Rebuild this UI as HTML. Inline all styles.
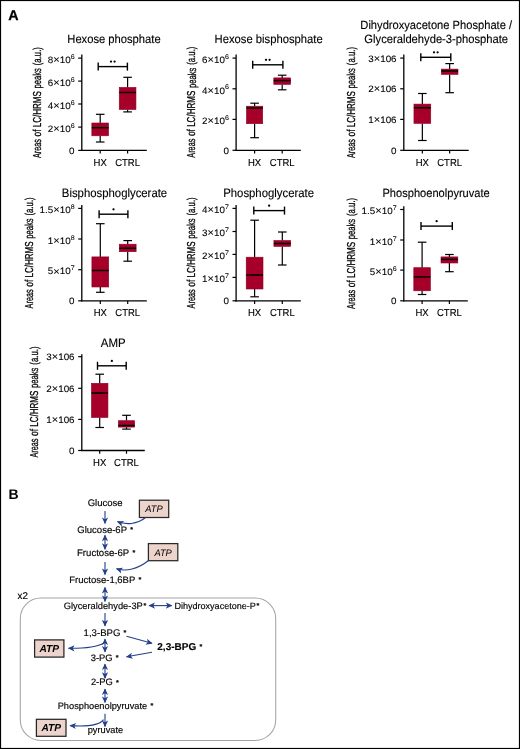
<!DOCTYPE html>
<html><head><meta charset="utf-8"><style>
html,body{margin:0;padding:0;background:#fff;}
body{width:520px;height:749px;overflow:hidden;position:relative;}
svg{position:absolute;left:0;top:0;font-family:"Liberation Sans", sans-serif;will-change:transform;text-rendering:geometricPrecision;}
</style></head><body>
<svg width="520" height="749" viewBox="0 0 520 749">
<rect x="0" y="0" width="520" height="749" fill="#fff"/>
<text x="8.3" y="19.6" font-size="14.3" font-weight="bold" stroke="#000" stroke-width="0.25">A</text>
<text x="8.5" y="499.2" font-size="14" font-weight="bold">B</text>
<text transform="translate(113.95,43.1) scale(1,1.07)" font-size="11.2" text-anchor="middle" stroke="#000" stroke-width="0.12">Hexose phosphate</text>
<text transform="translate(40.8,158.10026978417264) rotate(-90)" x="0" y="0" font-size="11.5" stroke="#000" stroke-width="0.28" textLength="19.05" lengthAdjust="spacingAndGlyphs">Areas</text>
<text transform="translate(40.8,136.45881294964028) rotate(-90)" x="0" y="0" font-size="11.5" stroke="#000" stroke-width="0.28" textLength="6.98" lengthAdjust="spacingAndGlyphs">of</text>
<text transform="translate(40.8,127.28363309352517) rotate(-90)" x="0" y="0" font-size="11.5" stroke="#000" stroke-width="0.28" textLength="36.10" lengthAdjust="spacingAndGlyphs">LC/HRMS</text>
<text transform="translate(40.8,88.48857913669063) rotate(-90)" x="0" y="0" font-size="11.5" stroke="#000" stroke-width="0.28" textLength="20.25" lengthAdjust="spacingAndGlyphs">peaks</text>
<text transform="translate(40.8,65.25143884892086) rotate(-90)" x="0" y="0" font-size="11.5" stroke="#000" stroke-width="0.28" textLength="18.15" lengthAdjust="spacingAndGlyphs">(a.u.)</text>
<line x1="81.8" y1="54.6" x2="81.8" y2="151.0" stroke="#000" stroke-width="1.3" />
<line x1="81.2" y1="150.4" x2="146.8" y2="150.4" stroke="#000" stroke-width="1.3" />
<line x1="78.2" y1="150.4" x2="81.8" y2="150.4" stroke="#000" stroke-width="1.2" />
<text transform="translate(74.6,153.8) scale(1.12,1.06)" font-size="8.8" text-anchor="end" stroke="#000" stroke-width="0.08">0</text>
<line x1="78.2" y1="127.1" x2="81.8" y2="127.1" stroke="#000" stroke-width="1.2" />
<text transform="translate(74.6,131.79999999999998) scale(1.12,1.06)" font-size="8.8" text-anchor="end" stroke="#000" stroke-width="0.08">2<tspan font-size="9.9" dy="0.1">×</tspan><tspan dy="-0.1">10</tspan><tspan font-size="6.3" dy="-3.9">6</tspan></text>
<line x1="78.2" y1="104" x2="81.8" y2="104" stroke="#000" stroke-width="1.2" />
<text transform="translate(74.6,108.7) scale(1.12,1.06)" font-size="8.8" text-anchor="end" stroke="#000" stroke-width="0.08">4<tspan font-size="9.9" dy="0.1">×</tspan><tspan dy="-0.1">10</tspan><tspan font-size="6.3" dy="-3.9">6</tspan></text>
<line x1="78.2" y1="81.1" x2="81.8" y2="81.1" stroke="#000" stroke-width="1.2" />
<text transform="translate(74.6,85.8) scale(1.12,1.06)" font-size="8.8" text-anchor="end" stroke="#000" stroke-width="0.08">6<tspan font-size="9.9" dy="0.1">×</tspan><tspan dy="-0.1">10</tspan><tspan font-size="6.3" dy="-3.9">6</tspan></text>
<line x1="78.2" y1="58.1" x2="81.8" y2="58.1" stroke="#000" stroke-width="1.2" />
<text transform="translate(74.6,62.800000000000004) scale(1.12,1.06)" font-size="8.8" text-anchor="end" stroke="#000" stroke-width="0.08">8<tspan font-size="9.9" dy="0.1">×</tspan><tspan dy="-0.1">10</tspan><tspan font-size="6.3" dy="-3.9">6</tspan></text>
<line x1="100.2" y1="150.4" x2="100.2" y2="153.6" stroke="#000" stroke-width="1.2" />
<text transform="translate(100.2,165.9) scale(1,1.06)" font-size="9.5" text-anchor="middle" stroke="#000" stroke-width="0.12">HX</text>
<line x1="127.6" y1="150.4" x2="127.6" y2="153.6" stroke="#000" stroke-width="1.2" />
<text transform="translate(127.6,165.9) scale(1,1.06)" font-size="9.5" text-anchor="middle" stroke="#000" stroke-width="0.12">CTRL</text>
<line x1="100.2" y1="114.3" x2="100.2" y2="123" stroke="#000" stroke-width="1.2" />
<line x1="100.2" y1="135.8" x2="100.2" y2="142" stroke="#000" stroke-width="1.2" />
<line x1="95.9" y1="114.3" x2="104.5" y2="114.3" stroke="#000" stroke-width="1.2" />
<line x1="95.9" y1="142" x2="104.5" y2="142" stroke="#000" stroke-width="1.2" />
<rect x="91.85000000000001" y="123" width="16.7" height="12.800000000000011" fill="#a6002a" stroke="#8e0022" stroke-width="0.6"/>
<line x1="91.85000000000001" y1="127.7" x2="108.55" y2="127.7" stroke="#000" stroke-width="1.5" />
<line x1="127.6" y1="77.3" x2="127.6" y2="87.4" stroke="#000" stroke-width="1.2" />
<line x1="127.6" y1="109.5" x2="127.6" y2="111.9" stroke="#000" stroke-width="1.2" />
<line x1="123.3" y1="77.3" x2="131.9" y2="77.3" stroke="#000" stroke-width="1.2" />
<line x1="123.3" y1="111.9" x2="131.9" y2="111.9" stroke="#000" stroke-width="1.2" />
<rect x="119.25" y="87.4" width="16.7" height="22.099999999999994" fill="#a6002a" stroke="#8e0022" stroke-width="0.6"/>
<line x1="119.25" y1="92.5" x2="135.95" y2="92.5" stroke="#000" stroke-width="1.5" />
<line x1="98.2" y1="66.6" x2="127.4" y2="66.6" stroke="#000" stroke-width="1.4" />
<line x1="98.2" y1="62.599999999999994" x2="98.2" y2="70.6" stroke="#000" stroke-width="1.4" />
<line x1="127.4" y1="62.599999999999994" x2="127.4" y2="70.6" stroke="#000" stroke-width="1.4" />
<circle cx="111.00000000000001" cy="61.599999999999994" r="1.15" fill="#000"/>
<circle cx="114.60000000000001" cy="61.599999999999994" r="1.15" fill="#000"/>
<text transform="translate(268.65,42.9) scale(1,1.07)" font-size="11.25" text-anchor="middle" stroke="#000" stroke-width="0.12">Hexose bisphosphate</text>
<text transform="translate(194.8,157.7001798561151) rotate(-90)" x="0" y="0" font-size="11.5" stroke="#000" stroke-width="0.28" textLength="19.07" lengthAdjust="spacingAndGlyphs">Areas</text>
<text transform="translate(194.8,136.03920863309352) rotate(-90)" x="0" y="0" font-size="11.5" stroke="#000" stroke-width="0.28" textLength="6.99" lengthAdjust="spacingAndGlyphs">of</text>
<text transform="translate(194.8,126.85575539568346) rotate(-90)" x="0" y="0" font-size="11.5" stroke="#000" stroke-width="0.28" textLength="36.13" lengthAdjust="spacingAndGlyphs">LC/HRMS</text>
<text transform="translate(194.8,88.02571942446043) rotate(-90)" x="0" y="1.0" font-size="11.5" stroke="#000" stroke-width="0.28" textLength="20.26" lengthAdjust="spacingAndGlyphs">peaks</text>
<text transform="translate(194.8,64.76762589928057) rotate(-90)" x="0" y="0" font-size="11.5" stroke="#000" stroke-width="0.28" textLength="18.17" lengthAdjust="spacingAndGlyphs">(a.u.)</text>
<line x1="236.1" y1="54.6" x2="236.1" y2="150.9" stroke="#000" stroke-width="1.3" />
<line x1="235.5" y1="150.3" x2="300.8" y2="150.3" stroke="#000" stroke-width="1.3" />
<line x1="232.5" y1="150.3" x2="236.1" y2="150.3" stroke="#000" stroke-width="1.2" />
<text transform="translate(228.9,153.70000000000002) scale(1.12,1.06)" font-size="8.8" text-anchor="end" stroke="#000" stroke-width="0.08">0</text>
<line x1="232.5" y1="119.4" x2="236.1" y2="119.4" stroke="#000" stroke-width="1.2" />
<text transform="translate(228.9,124.10000000000001) scale(1.12,1.06)" font-size="8.8" text-anchor="end" stroke="#000" stroke-width="0.08">2<tspan font-size="9.9" dy="0.1">×</tspan><tspan dy="-0.1">10</tspan><tspan font-size="6.3" dy="-3.9">6</tspan></text>
<line x1="232.5" y1="88.8" x2="236.1" y2="88.8" stroke="#000" stroke-width="1.2" />
<text transform="translate(228.9,93.5) scale(1.12,1.06)" font-size="8.8" text-anchor="end" stroke="#000" stroke-width="0.08">4<tspan font-size="9.9" dy="0.1">×</tspan><tspan dy="-0.1">10</tspan><tspan font-size="6.3" dy="-3.9">6</tspan></text>
<line x1="232.5" y1="58.1" x2="236.1" y2="58.1" stroke="#000" stroke-width="1.2" />
<text transform="translate(228.9,62.800000000000004) scale(1.12,1.06)" font-size="8.8" text-anchor="end" stroke="#000" stroke-width="0.08">6<tspan font-size="9.9" dy="0.1">×</tspan><tspan dy="-0.1">10</tspan><tspan font-size="6.3" dy="-3.9">6</tspan></text>
<line x1="254.6" y1="150.3" x2="254.6" y2="153.5" stroke="#000" stroke-width="1.2" />
<text transform="translate(254.6,165.8) scale(1,1.06)" font-size="9.5" text-anchor="middle" stroke="#000" stroke-width="0.12">HX</text>
<line x1="282.2" y1="150.3" x2="282.2" y2="153.5" stroke="#000" stroke-width="1.2" />
<text transform="translate(282.2,165.8) scale(1,1.06)" font-size="9.5" text-anchor="middle" stroke="#000" stroke-width="0.12">CTRL</text>
<line x1="254.6" y1="103.2" x2="254.6" y2="106.2" stroke="#000" stroke-width="1.2" />
<line x1="254.6" y1="123.7" x2="254.6" y2="137.7" stroke="#000" stroke-width="1.2" />
<line x1="250.29999999999998" y1="103.2" x2="258.9" y2="103.2" stroke="#000" stroke-width="1.2" />
<line x1="250.29999999999998" y1="137.7" x2="258.9" y2="137.7" stroke="#000" stroke-width="1.2" />
<rect x="246.5" y="106.2" width="16.2" height="17.5" fill="#a6002a" stroke="#8e0022" stroke-width="0.6"/>
<line x1="246.5" y1="108" x2="262.7" y2="108" stroke="#000" stroke-width="1.5" />
<line x1="282.2" y1="75.2" x2="282.2" y2="77.9" stroke="#000" stroke-width="1.2" />
<line x1="282.2" y1="84.4" x2="282.2" y2="89.8" stroke="#000" stroke-width="1.2" />
<line x1="277.9" y1="75.2" x2="286.5" y2="75.2" stroke="#000" stroke-width="1.2" />
<line x1="277.9" y1="89.8" x2="286.5" y2="89.8" stroke="#000" stroke-width="1.2" />
<rect x="273.8" y="77.9" width="16.8" height="6.5" fill="#a6002a" stroke="#8e0022" stroke-width="0.6"/>
<line x1="273.8" y1="80.6" x2="290.59999999999997" y2="80.6" stroke="#000" stroke-width="1.5" />
<line x1="252.7" y1="64.8" x2="282.9" y2="64.8" stroke="#000" stroke-width="1.4" />
<line x1="252.7" y1="60.8" x2="252.7" y2="68.8" stroke="#000" stroke-width="1.4" />
<line x1="282.9" y1="60.8" x2="282.9" y2="68.8" stroke="#000" stroke-width="1.4" />
<circle cx="265.99999999999994" cy="59.8" r="1.15" fill="#000"/>
<circle cx="269.59999999999997" cy="59.8" r="1.15" fill="#000"/>
<text transform="translate(436.2,28.8) scale(1,1.07)" font-size="11.15" text-anchor="middle" stroke="#000" stroke-width="0.12">Dihydroxyacetone Phosphate /</text>
<text transform="translate(436.2,42.8) scale(1,1.07)" font-size="11.2" text-anchor="middle" stroke="#000" stroke-width="0.12">Glyceraldehyde-3-phosphate</text>
<text transform="translate(354.7,158.1001798561151) rotate(-90)" x="0" y="0" font-size="11.5" stroke="#000" stroke-width="0.28" textLength="19.07" lengthAdjust="spacingAndGlyphs">Areas</text>
<text transform="translate(354.7,136.43920863309353) rotate(-90)" x="0" y="0" font-size="11.5" stroke="#000" stroke-width="0.28" textLength="6.99" lengthAdjust="spacingAndGlyphs">of</text>
<text transform="translate(354.7,127.25575539568345) rotate(-90)" x="0" y="0" font-size="11.5" stroke="#000" stroke-width="0.28" textLength="36.13" lengthAdjust="spacingAndGlyphs">LC/HRMS</text>
<text transform="translate(354.7,88.42571942446042) rotate(-90)" x="0" y="0" font-size="11.5" stroke="#000" stroke-width="0.28" textLength="20.26" lengthAdjust="spacingAndGlyphs">peaks</text>
<text transform="translate(354.7,65.16762589928057) rotate(-90)" x="0" y="0" font-size="11.5" stroke="#000" stroke-width="0.28" textLength="18.17" lengthAdjust="spacingAndGlyphs">(a.u.)</text>
<line x1="403.8" y1="54.6" x2="403.8" y2="150.9" stroke="#000" stroke-width="1.3" />
<line x1="403.2" y1="150.3" x2="468.7" y2="150.3" stroke="#000" stroke-width="1.3" />
<line x1="400.2" y1="150.3" x2="403.8" y2="150.3" stroke="#000" stroke-width="1.2" />
<text transform="translate(396.6,153.70000000000002) scale(1.12,1.06)" font-size="8.8" text-anchor="end" stroke="#000" stroke-width="0.08">0</text>
<line x1="400.2" y1="119.4" x2="403.8" y2="119.4" stroke="#000" stroke-width="1.2" />
<text transform="translate(396.6,122.80000000000001) scale(1.12,1.06)" font-size="8.8" text-anchor="end" stroke="#000" stroke-width="0.08">1<tspan font-size="9.9" dy="0.1">×</tspan><tspan dy="-0.1">106</tspan></text>
<line x1="400.2" y1="88.8" x2="403.8" y2="88.8" stroke="#000" stroke-width="1.2" />
<text transform="translate(396.6,92.2) scale(1.12,1.06)" font-size="8.8" text-anchor="end" stroke="#000" stroke-width="0.08">2<tspan font-size="9.9" dy="0.1">×</tspan><tspan dy="-0.1">106</tspan></text>
<line x1="400.2" y1="58.1" x2="403.8" y2="58.1" stroke="#000" stroke-width="1.2" />
<text transform="translate(396.6,61.5) scale(1.12,1.06)" font-size="8.8" text-anchor="end" stroke="#000" stroke-width="0.08">3<tspan font-size="9.9" dy="0.1">×</tspan><tspan dy="-0.1">106</tspan></text>
<line x1="422.35" y1="150.3" x2="422.35" y2="153.5" stroke="#000" stroke-width="1.2" />
<text transform="translate(422.35,165.8) scale(1,1.06)" font-size="9.5" text-anchor="middle" stroke="#000" stroke-width="0.12">HX</text>
<line x1="449.65" y1="150.3" x2="449.65" y2="153.5" stroke="#000" stroke-width="1.2" />
<text transform="translate(449.65,165.8) scale(1,1.06)" font-size="9.5" text-anchor="middle" stroke="#000" stroke-width="0.12">CTRL</text>
<line x1="422.35" y1="93.5" x2="422.35" y2="104.1" stroke="#000" stroke-width="1.2" />
<line x1="422.35" y1="123.4" x2="422.35" y2="140.5" stroke="#000" stroke-width="1.2" />
<line x1="418.05" y1="93.5" x2="426.65000000000003" y2="93.5" stroke="#000" stroke-width="1.2" />
<line x1="418.05" y1="140.5" x2="426.65000000000003" y2="140.5" stroke="#000" stroke-width="1.2" />
<rect x="413.95000000000005" y="104.1" width="16.8" height="19.30000000000001" fill="#a6002a" stroke="#8e0022" stroke-width="0.6"/>
<line x1="413.95000000000005" y1="107.8" x2="430.75" y2="107.8" stroke="#000" stroke-width="1.5" />
<line x1="449.65" y1="63.6" x2="449.65" y2="69.1" stroke="#000" stroke-width="1.2" />
<line x1="449.65" y1="74.4" x2="449.65" y2="92.7" stroke="#000" stroke-width="1.2" />
<line x1="445.34999999999997" y1="63.6" x2="453.95" y2="63.6" stroke="#000" stroke-width="1.2" />
<line x1="445.34999999999997" y1="92.7" x2="453.95" y2="92.7" stroke="#000" stroke-width="1.2" />
<rect x="441.29999999999995" y="69.1" width="16.7" height="5.300000000000011" fill="#a6002a" stroke="#8e0022" stroke-width="0.6"/>
<line x1="441.29999999999995" y1="71" x2="458.0" y2="71" stroke="#000" stroke-width="1.5" />
<line x1="420.8" y1="57.3" x2="450.8" y2="57.3" stroke="#000" stroke-width="1.4" />
<line x1="420.8" y1="53.3" x2="420.8" y2="61.3" stroke="#000" stroke-width="1.4" />
<line x1="450.8" y1="53.3" x2="450.8" y2="61.3" stroke="#000" stroke-width="1.4" />
<circle cx="434.0" cy="52.3" r="1.15" fill="#000"/>
<circle cx="437.6" cy="52.3" r="1.15" fill="#000"/>
<text transform="translate(114.5,196.5) scale(1,1.07)" font-size="11.35" text-anchor="middle" stroke="#000" stroke-width="0.12">Bisphosphoglycerate</text>
<text transform="translate(32.7,308.40017985611513) rotate(-90)" x="0" y="0" font-size="11.5" stroke="#000" stroke-width="0.28" textLength="19.07" lengthAdjust="spacingAndGlyphs">Areas</text>
<text transform="translate(32.7,286.73920863309354) rotate(-90)" x="0" y="0" font-size="11.5" stroke="#000" stroke-width="0.28" textLength="6.99" lengthAdjust="spacingAndGlyphs">of</text>
<text transform="translate(32.7,277.55575539568343) rotate(-90)" x="0" y="0" font-size="11.5" stroke="#000" stroke-width="0.28" textLength="36.13" lengthAdjust="spacingAndGlyphs">LC/HRMS</text>
<text transform="translate(32.7,238.7257194244604) rotate(-90)" x="0" y="0" font-size="11.5" stroke="#000" stroke-width="0.28" textLength="20.26" lengthAdjust="spacingAndGlyphs">peaks</text>
<text transform="translate(32.7,215.46762589928056) rotate(-90)" x="0" y="0" font-size="11.5" stroke="#000" stroke-width="0.28" textLength="18.17" lengthAdjust="spacingAndGlyphs">(a.u.)</text>
<line x1="81.8" y1="204.9" x2="81.8" y2="301.40000000000003" stroke="#000" stroke-width="1.3" />
<line x1="81.2" y1="300.8" x2="146.8" y2="300.8" stroke="#000" stroke-width="1.3" />
<line x1="78.2" y1="300.8" x2="81.8" y2="300.8" stroke="#000" stroke-width="1.2" />
<text transform="translate(74.6,304.2) scale(1.12,1.06)" font-size="8.8" text-anchor="end" stroke="#000" stroke-width="0.08">0</text>
<line x1="78.2" y1="269.7" x2="81.8" y2="269.7" stroke="#000" stroke-width="1.2" />
<text transform="translate(74.6,274.4) scale(1.12,1.06)" font-size="8.8" text-anchor="end" stroke="#000" stroke-width="0.08">5<tspan font-size="9.9" dy="0.1">×</tspan><tspan dy="-0.1">10</tspan><tspan font-size="6.3" dy="-3.9">7</tspan></text>
<line x1="78.2" y1="239" x2="81.8" y2="239" stroke="#000" stroke-width="1.2" />
<text transform="translate(74.6,243.7) scale(1.12,1.06)" font-size="8.8" text-anchor="end" stroke="#000" stroke-width="0.08">1<tspan font-size="9.9" dy="0.1">×</tspan><tspan dy="-0.1">10</tspan><tspan font-size="6.3" dy="-3.9">8</tspan></text>
<line x1="78.2" y1="208.4" x2="81.8" y2="208.4" stroke="#000" stroke-width="1.2" />
<text transform="translate(74.6,213.1) scale(1.12,1.06)" font-size="8.8" text-anchor="end" stroke="#000" stroke-width="0.08">1.5<tspan font-size="9.9" dy="0.1">×</tspan><tspan dy="-0.1">10</tspan><tspan font-size="6.3" dy="-3.9">8</tspan></text>
<line x1="100.3" y1="300.8" x2="100.3" y2="304.0" stroke="#000" stroke-width="1.2" />
<text transform="translate(100.3,316.3) scale(1,1.06)" font-size="9.5" text-anchor="middle" stroke="#000" stroke-width="0.12">HX</text>
<line x1="127.7" y1="300.8" x2="127.7" y2="304.0" stroke="#000" stroke-width="1.2" />
<text transform="translate(127.7,316.3) scale(1,1.06)" font-size="9.5" text-anchor="middle" stroke="#000" stroke-width="0.12">CTRL</text>
<line x1="100.3" y1="223.7" x2="100.3" y2="256.9" stroke="#000" stroke-width="1.2" />
<line x1="100.3" y1="287" x2="100.3" y2="292.3" stroke="#000" stroke-width="1.2" />
<line x1="96.0" y1="223.7" x2="104.6" y2="223.7" stroke="#000" stroke-width="1.2" />
<line x1="96.0" y1="292.3" x2="104.6" y2="292.3" stroke="#000" stroke-width="1.2" />
<rect x="91.89999999999999" y="256.9" width="16.8" height="30.100000000000023" fill="#a6002a" stroke="#8e0022" stroke-width="0.6"/>
<line x1="91.89999999999999" y1="270.5" x2="108.7" y2="270.5" stroke="#000" stroke-width="1.5" />
<line x1="127.7" y1="240.6" x2="127.7" y2="244.2" stroke="#000" stroke-width="1.2" />
<line x1="127.7" y1="251.7" x2="127.7" y2="261.2" stroke="#000" stroke-width="1.2" />
<line x1="123.4" y1="240.6" x2="132.0" y2="240.6" stroke="#000" stroke-width="1.2" />
<line x1="123.4" y1="261.2" x2="132.0" y2="261.2" stroke="#000" stroke-width="1.2" />
<rect x="119.3" y="244.2" width="16.8" height="7.5" fill="#a6002a" stroke="#8e0022" stroke-width="0.6"/>
<line x1="119.3" y1="248.3" x2="136.1" y2="248.3" stroke="#000" stroke-width="1.5" />
<line x1="99.1" y1="214.2" x2="127.9" y2="214.2" stroke="#000" stroke-width="1.4" />
<line x1="99.1" y1="210.2" x2="99.1" y2="218.2" stroke="#000" stroke-width="1.4" />
<line x1="127.9" y1="210.2" x2="127.9" y2="218.2" stroke="#000" stroke-width="1.4" />
<circle cx="113.5" cy="209.29999999999998" r="1.15" fill="#000"/>
<text transform="translate(268.6,196.6) scale(1,1.07)" font-size="11.35" text-anchor="middle" stroke="#000" stroke-width="0.12">Phosphoglycerate</text>
<text transform="translate(195.2,308.40017985611513) rotate(-90)" x="0" y="0" font-size="11.5" stroke="#000" stroke-width="0.28" textLength="19.07" lengthAdjust="spacingAndGlyphs">Areas</text>
<text transform="translate(195.2,286.73920863309354) rotate(-90)" x="0" y="0" font-size="11.5" stroke="#000" stroke-width="0.28" textLength="6.99" lengthAdjust="spacingAndGlyphs">of</text>
<text transform="translate(195.2,277.55575539568343) rotate(-90)" x="0" y="0" font-size="11.5" stroke="#000" stroke-width="0.28" textLength="36.13" lengthAdjust="spacingAndGlyphs">LC/HRMS</text>
<text transform="translate(195.2,238.7257194244604) rotate(-90)" x="0" y="0" font-size="11.5" stroke="#000" stroke-width="0.28" textLength="20.26" lengthAdjust="spacingAndGlyphs">peaks</text>
<text transform="translate(195.2,215.46762589928056) rotate(-90)" x="0" y="0" font-size="11.5" stroke="#000" stroke-width="0.28" textLength="18.17" lengthAdjust="spacingAndGlyphs">(a.u.)</text>
<line x1="236.1" y1="204.9" x2="236.1" y2="301.40000000000003" stroke="#000" stroke-width="1.3" />
<line x1="235.5" y1="300.8" x2="300.8" y2="300.8" stroke="#000" stroke-width="1.3" />
<line x1="232.5" y1="300.8" x2="236.1" y2="300.8" stroke="#000" stroke-width="1.2" />
<text transform="translate(228.9,304.2) scale(1.12,1.06)" font-size="8.8" text-anchor="end" stroke="#000" stroke-width="0.08">0</text>
<line x1="232.5" y1="277.4" x2="236.1" y2="277.4" stroke="#000" stroke-width="1.2" />
<text transform="translate(228.9,282.09999999999997) scale(1.12,1.06)" font-size="8.8" text-anchor="end" stroke="#000" stroke-width="0.08">1<tspan font-size="9.9" dy="0.1">×</tspan><tspan dy="-0.1">10</tspan><tspan font-size="6.3" dy="-3.9">7</tspan></text>
<line x1="232.5" y1="254.4" x2="236.1" y2="254.4" stroke="#000" stroke-width="1.2" />
<text transform="translate(228.9,259.1) scale(1.12,1.06)" font-size="8.8" text-anchor="end" stroke="#000" stroke-width="0.08">2<tspan font-size="9.9" dy="0.1">×</tspan><tspan dy="-0.1">10</tspan><tspan font-size="6.3" dy="-3.9">7</tspan></text>
<line x1="232.5" y1="231.5" x2="236.1" y2="231.5" stroke="#000" stroke-width="1.2" />
<text transform="translate(228.9,236.2) scale(1.12,1.06)" font-size="8.8" text-anchor="end" stroke="#000" stroke-width="0.08">3<tspan font-size="9.9" dy="0.1">×</tspan><tspan dy="-0.1">10</tspan><tspan font-size="6.3" dy="-3.9">7</tspan></text>
<line x1="232.5" y1="208.4" x2="236.1" y2="208.4" stroke="#000" stroke-width="1.2" />
<text transform="translate(228.9,213.1) scale(1.12,1.06)" font-size="8.8" text-anchor="end" stroke="#000" stroke-width="0.08">4<tspan font-size="9.9" dy="0.1">×</tspan><tspan dy="-0.1">10</tspan><tspan font-size="6.3" dy="-3.9">7</tspan></text>
<line x1="254.6" y1="300.8" x2="254.6" y2="304.0" stroke="#000" stroke-width="1.2" />
<text transform="translate(254.6,316.3) scale(1,1.06)" font-size="9.5" text-anchor="middle" stroke="#000" stroke-width="0.12">HX</text>
<line x1="282.3" y1="300.8" x2="282.3" y2="304.0" stroke="#000" stroke-width="1.2" />
<text transform="translate(282.3,316.3) scale(1,1.06)" font-size="9.5" text-anchor="middle" stroke="#000" stroke-width="0.12">CTRL</text>
<line x1="254.6" y1="220.2" x2="254.6" y2="257.2" stroke="#000" stroke-width="1.2" />
<line x1="254.6" y1="289" x2="254.6" y2="296.8" stroke="#000" stroke-width="1.2" />
<line x1="250.29999999999998" y1="220.2" x2="258.9" y2="220.2" stroke="#000" stroke-width="1.2" />
<line x1="250.29999999999998" y1="296.8" x2="258.9" y2="296.8" stroke="#000" stroke-width="1.2" />
<rect x="246.2" y="257.2" width="16.8" height="31.80000000000001" fill="#a6002a" stroke="#8e0022" stroke-width="0.6"/>
<line x1="246.2" y1="275" x2="263.0" y2="275" stroke="#000" stroke-width="1.5" />
<line x1="282.3" y1="232" x2="282.3" y2="240.5" stroke="#000" stroke-width="1.2" />
<line x1="282.3" y1="246.4" x2="282.3" y2="265" stroke="#000" stroke-width="1.2" />
<line x1="278.0" y1="232" x2="286.6" y2="232" stroke="#000" stroke-width="1.2" />
<line x1="278.0" y1="265" x2="286.6" y2="265" stroke="#000" stroke-width="1.2" />
<rect x="273.90000000000003" y="240.5" width="16.8" height="5.900000000000006" fill="#a6002a" stroke="#8e0022" stroke-width="0.6"/>
<line x1="273.90000000000003" y1="243.5" x2="290.7" y2="243.5" stroke="#000" stroke-width="1.5" />
<line x1="253.8" y1="210.6" x2="284.5" y2="210.6" stroke="#000" stroke-width="1.4" />
<line x1="253.8" y1="206.6" x2="253.8" y2="214.6" stroke="#000" stroke-width="1.4" />
<line x1="284.5" y1="206.6" x2="284.5" y2="214.6" stroke="#000" stroke-width="1.4" />
<circle cx="269.15" cy="205.7" r="1.15" fill="#000"/>
<text transform="translate(436.1,196.5) scale(1,1.07)" font-size="11.1" text-anchor="middle" stroke="#000" stroke-width="0.12">Phosphoenolpyruvate</text>
<text transform="translate(354.8,308.90017985611513) rotate(-90)" x="0" y="0" font-size="11.5" stroke="#000" stroke-width="0.28" textLength="19.07" lengthAdjust="spacingAndGlyphs">Areas</text>
<text transform="translate(354.8,287.23920863309354) rotate(-90)" x="0" y="0" font-size="11.5" stroke="#000" stroke-width="0.28" textLength="6.99" lengthAdjust="spacingAndGlyphs">of</text>
<text transform="translate(354.8,278.05575539568343) rotate(-90)" x="0" y="0" font-size="11.5" stroke="#000" stroke-width="0.28" textLength="36.13" lengthAdjust="spacingAndGlyphs">LC/HRMS</text>
<text transform="translate(354.8,239.2257194244604) rotate(-90)" x="0" y="0" font-size="11.5" stroke="#000" stroke-width="0.28" textLength="20.26" lengthAdjust="spacingAndGlyphs">peaks</text>
<text transform="translate(354.8,215.96762589928056) rotate(-90)" x="0" y="0" font-size="11.5" stroke="#000" stroke-width="0.28" textLength="18.17" lengthAdjust="spacingAndGlyphs">(a.u.)</text>
<line x1="403.8" y1="206.3" x2="403.8" y2="301.40000000000003" stroke="#000" stroke-width="1.3" />
<line x1="403.2" y1="300.8" x2="467.8" y2="300.8" stroke="#000" stroke-width="1.3" />
<line x1="400.2" y1="300.8" x2="403.8" y2="300.8" stroke="#000" stroke-width="1.2" />
<text transform="translate(396.6,304.2) scale(1.12,1.06)" font-size="8.8" text-anchor="end" stroke="#000" stroke-width="0.08">0</text>
<line x1="400.2" y1="270.1" x2="403.8" y2="270.1" stroke="#000" stroke-width="1.2" />
<text transform="translate(396.6,274.8) scale(1.12,1.06)" font-size="8.8" text-anchor="end" stroke="#000" stroke-width="0.08">5<tspan font-size="9.9" dy="0.1">×</tspan><tspan dy="-0.1">10</tspan><tspan font-size="6.3" dy="-3.9">6</tspan></text>
<line x1="400.2" y1="240" x2="403.8" y2="240" stroke="#000" stroke-width="1.2" />
<text transform="translate(396.6,244.7) scale(1.12,1.06)" font-size="8.8" text-anchor="end" stroke="#000" stroke-width="0.08">1<tspan font-size="9.9" dy="0.1">×</tspan><tspan dy="-0.1">10</tspan><tspan font-size="6.3" dy="-3.9">7</tspan></text>
<line x1="400.2" y1="209.5" x2="403.8" y2="209.5" stroke="#000" stroke-width="1.2" />
<text transform="translate(396.6,214.2) scale(1.12,1.06)" font-size="8.8" text-anchor="end" stroke="#000" stroke-width="0.08">1.5<tspan font-size="9.9" dy="0.1">×</tspan><tspan dy="-0.1">10</tspan><tspan font-size="6.3" dy="-3.9">7</tspan></text>
<line x1="422.1" y1="300.8" x2="422.1" y2="304.0" stroke="#000" stroke-width="1.2" />
<text transform="translate(422.1,316.3) scale(1,1.06)" font-size="9.5" text-anchor="middle" stroke="#000" stroke-width="0.12">HX</text>
<line x1="449.4" y1="300.8" x2="449.4" y2="304.0" stroke="#000" stroke-width="1.2" />
<text transform="translate(449.4,316.3) scale(1,1.06)" font-size="9.5" text-anchor="middle" stroke="#000" stroke-width="0.12">CTRL</text>
<line x1="422.1" y1="242.2" x2="422.1" y2="267.7" stroke="#000" stroke-width="1.2" />
<line x1="422.1" y1="290.8" x2="422.1" y2="294.5" stroke="#000" stroke-width="1.2" />
<line x1="417.8" y1="242.2" x2="426.40000000000003" y2="242.2" stroke="#000" stroke-width="1.2" />
<line x1="417.8" y1="294.5" x2="426.40000000000003" y2="294.5" stroke="#000" stroke-width="1.2" />
<rect x="413.8" y="267.7" width="16.6" height="23.100000000000023" fill="#a6002a" stroke="#8e0022" stroke-width="0.6"/>
<line x1="413.8" y1="276.9" x2="430.40000000000003" y2="276.9" stroke="#000" stroke-width="1.5" />
<line x1="449.4" y1="254.5" x2="449.4" y2="256.9" stroke="#000" stroke-width="1.2" />
<line x1="449.4" y1="263" x2="449.4" y2="271.7" stroke="#000" stroke-width="1.2" />
<line x1="445.09999999999997" y1="254.5" x2="453.7" y2="254.5" stroke="#000" stroke-width="1.2" />
<line x1="445.09999999999997" y1="271.7" x2="453.7" y2="271.7" stroke="#000" stroke-width="1.2" />
<rect x="441.0" y="256.9" width="16.8" height="6.100000000000023" fill="#a6002a" stroke="#8e0022" stroke-width="0.6"/>
<line x1="441.0" y1="259.4" x2="457.79999999999995" y2="259.4" stroke="#000" stroke-width="1.5" />
<line x1="421" y1="226.1" x2="452.3" y2="226.1" stroke="#000" stroke-width="1.4" />
<line x1="421" y1="222.1" x2="421" y2="230.1" stroke="#000" stroke-width="1.4" />
<line x1="452.3" y1="222.1" x2="452.3" y2="230.1" stroke="#000" stroke-width="1.4" />
<circle cx="436.65" cy="221.2" r="1.15" fill="#000"/>
<text transform="translate(113.3,346.9) scale(1,1.07)" font-size="11.5" text-anchor="middle" stroke="#000" stroke-width="0.12">AMP</text>
<text transform="translate(37.7,457.6001798561151) rotate(-90)" x="0" y="0" font-size="11.5" stroke="#000" stroke-width="0.28" textLength="19.07" lengthAdjust="spacingAndGlyphs">Areas</text>
<text transform="translate(37.7,435.93920863309353) rotate(-90)" x="0" y="0" font-size="11.5" stroke="#000" stroke-width="0.28" textLength="6.99" lengthAdjust="spacingAndGlyphs">of</text>
<text transform="translate(37.7,426.7557553956834) rotate(-90)" x="0" y="0" font-size="11.5" stroke="#000" stroke-width="0.28" textLength="36.13" lengthAdjust="spacingAndGlyphs">LC/HRMS</text>
<text transform="translate(37.7,387.9257194244604) rotate(-90)" x="0" y="0" font-size="11.5" stroke="#000" stroke-width="0.28" textLength="20.26" lengthAdjust="spacingAndGlyphs">peaks</text>
<text transform="translate(37.7,364.66762589928055) rotate(-90)" x="0" y="0" font-size="11.5" stroke="#000" stroke-width="0.28" textLength="18.17" lengthAdjust="spacingAndGlyphs">(a.u.)</text>
<line x1="81.8" y1="354.2" x2="81.8" y2="451.1" stroke="#000" stroke-width="1.3" />
<line x1="81.2" y1="450.5" x2="144.8" y2="450.5" stroke="#000" stroke-width="1.3" />
<line x1="78.2" y1="450.5" x2="81.8" y2="450.5" stroke="#000" stroke-width="1.2" />
<text transform="translate(74.6,453.9) scale(1.12,1.06)" font-size="8.8" text-anchor="end" stroke="#000" stroke-width="0.08">0</text>
<line x1="78.2" y1="419.4" x2="81.8" y2="419.4" stroke="#000" stroke-width="1.2" />
<text transform="translate(74.6,422.79999999999995) scale(1.12,1.06)" font-size="8.8" text-anchor="end" stroke="#000" stroke-width="0.08">1<tspan font-size="9.9" dy="0.1">×</tspan><tspan dy="-0.1">106</tspan></text>
<line x1="78.2" y1="388.3" x2="81.8" y2="388.3" stroke="#000" stroke-width="1.2" />
<text transform="translate(74.6,391.7) scale(1.12,1.06)" font-size="8.8" text-anchor="end" stroke="#000" stroke-width="0.08">2<tspan font-size="9.9" dy="0.1">×</tspan><tspan dy="-0.1">106</tspan></text>
<line x1="78.2" y1="356.7" x2="81.8" y2="356.7" stroke="#000" stroke-width="1.2" />
<text transform="translate(74.6,360.09999999999997) scale(1.12,1.06)" font-size="8.8" text-anchor="end" stroke="#000" stroke-width="0.08">3<tspan font-size="9.9" dy="0.1">×</tspan><tspan dy="-0.1">106</tspan></text>
<line x1="99.7" y1="450.5" x2="99.7" y2="453.7" stroke="#000" stroke-width="1.2" />
<text transform="translate(99.7,466.0) scale(1,1.06)" font-size="9.5" text-anchor="middle" stroke="#000" stroke-width="0.12">HX</text>
<line x1="126.5" y1="450.5" x2="126.5" y2="453.7" stroke="#000" stroke-width="1.2" />
<text transform="translate(126.5,466.0) scale(1,1.06)" font-size="9.5" text-anchor="middle" stroke="#000" stroke-width="0.12">CTRL</text>
<line x1="99.7" y1="374.2" x2="99.7" y2="383.3" stroke="#000" stroke-width="1.2" />
<line x1="99.7" y1="417.5" x2="99.7" y2="427.5" stroke="#000" stroke-width="1.2" />
<line x1="95.4" y1="374.2" x2="104.0" y2="374.2" stroke="#000" stroke-width="1.2" />
<line x1="95.4" y1="427.5" x2="104.0" y2="427.5" stroke="#000" stroke-width="1.2" />
<rect x="91.45" y="383.3" width="16.5" height="34.19999999999999" fill="#a6002a" stroke="#8e0022" stroke-width="0.6"/>
<line x1="91.45" y1="393" x2="107.95" y2="393" stroke="#000" stroke-width="1.5" />
<line x1="126.5" y1="415.3" x2="126.5" y2="420.7" stroke="#000" stroke-width="1.2" />
<line x1="126.5" y1="427.1" x2="126.5" y2="429.1" stroke="#000" stroke-width="1.2" />
<line x1="122.2" y1="415.3" x2="130.8" y2="415.3" stroke="#000" stroke-width="1.2" />
<line x1="122.2" y1="429.1" x2="130.8" y2="429.1" stroke="#000" stroke-width="1.2" />
<rect x="118.35" y="420.7" width="16.3" height="6.400000000000034" fill="#a6002a" stroke="#8e0022" stroke-width="0.6"/>
<line x1="118.35" y1="425.5" x2="134.65" y2="425.5" stroke="#000" stroke-width="1.5" />
<line x1="97.5" y1="365.8" x2="126.2" y2="365.8" stroke="#000" stroke-width="1.4" />
<line x1="97.5" y1="361.8" x2="97.5" y2="369.8" stroke="#000" stroke-width="1.4" />
<line x1="126.2" y1="361.8" x2="126.2" y2="369.8" stroke="#000" stroke-width="1.4" />
<circle cx="111.85" cy="360.90000000000003" r="1.15" fill="#000"/>
<rect x="20.3" y="598" width="255.4" height="142.4" rx="20.5" ry="20.5" fill="none" stroke="#a4a4a4" stroke-width="1.05"/>
<text x="17.6" y="598.9" font-size="9.8" text-anchor="start" font-weight="normal" font-style="normal" fill="#000" stroke="#000" stroke-width="0.15">x2</text>
<text x="105.1" y="506" font-size="9.5" text-anchor="middle" font-weight="normal" font-style="normal" fill="#000" stroke="#000" stroke-width="0.15">Glucose</text>
<text x="77.3" y="532.5" font-size="9.53" font-weight="normal" stroke="#000" stroke-width="0.15">Glucose-6P<tspan font-size="7.2" dx="3.2" dy="-0.9" font-weight="bold">*</tspan></text>
<text x="77.0" y="556.2" font-size="9.6" font-weight="normal" stroke="#000" stroke-width="0.15">Fructose-6P<tspan font-size="7.2" dx="3.2" dy="-0.9" font-weight="bold">*</tspan></text>
<text x="69.3" y="583" font-size="9.5" font-weight="normal" stroke="#000" stroke-width="0.15">Fructose-1,6BP<tspan font-size="7.2" dx="3.2" dy="-0.9" font-weight="bold">*</tspan></text>
<text x="63.7" y="608.9" font-size="9.3" font-weight="normal" stroke="#000" stroke-width="0.15">Glyceraldehyde-3P<tspan font-size="7.2" dx="0.6" dy="-0.9" font-weight="bold">*</tspan></text>
<text x="174.4" y="608.9" font-size="9.05" font-weight="normal" stroke="#000" stroke-width="0.15">Dihydroxyacetone-P<tspan font-size="7.2" dx="0.6" dy="-0.9" font-weight="bold">*</tspan></text>
<text x="83.6" y="635.6" font-size="9.6" font-weight="normal" stroke="#000" stroke-width="0.15">1,3-BPG<tspan font-size="7.2" dx="3.2" dy="-0.9" font-weight="bold">*</tspan></text>
<text x="157.3" y="650" font-size="10" font-weight="bold" stroke="#000" stroke-width="0.15">2,3-BPG<tspan font-size="7.2" dx="3.2" dy="-0.9" font-weight="bold">*</tspan></text>
<text x="90.7" y="661" font-size="9.4" font-weight="normal" stroke="#000" stroke-width="0.15">3-PG<tspan font-size="7.2" dx="3.2" dy="-0.9" font-weight="bold">*</tspan></text>
<text x="90.9" y="685.4" font-size="9.35" font-weight="normal" stroke="#000" stroke-width="0.15">2-PG<tspan font-size="7.2" dx="3.2" dy="-0.9" font-weight="bold">*</tspan></text>
<text x="57.7" y="709.3" font-size="9.25" font-weight="normal" stroke="#000" stroke-width="0.15">Phosphoenolpyruvate<tspan font-size="7.2" dx="3.2" dy="-0.9" font-weight="bold">*</tspan></text>
<text x="87.7" y="732.5" font-size="9.25" text-anchor="start" font-weight="normal" font-style="normal" fill="#000" stroke="#000" stroke-width="0.15">pyruvate</text>
<rect x="139.4" y="500.2" width="29.3" height="17.3" fill="#ecd3cb" stroke="#2a2a2a" stroke-width="1.25"/>
<text x="154.05" y="512.25" font-size="9.3" text-anchor="middle" font-style="italic" font-weight="normal">ATP</text>
<rect x="148.4" y="543.6" width="29.4" height="17.1" fill="#ecd3cb" stroke="#2a2a2a" stroke-width="1.25"/>
<text x="163.1" y="555.55" font-size="9.3" text-anchor="middle" font-style="italic" font-weight="normal">ATP</text>
<rect x="34.6" y="639.9" width="29.3" height="17.2" fill="#ecd3cb" stroke="#262626" stroke-width="1.25"/>
<text x="49.25" y="651.9" font-size="10.2" text-anchor="middle" font-style="italic" font-weight="bold">ATP</text>
<rect x="36.4" y="719.3" width="29.6" height="17" fill="#ecd3cb" stroke="#262626" stroke-width="1.25"/>
<text x="51.2" y="731.1999999999999" font-size="10.2" text-anchor="middle" font-style="italic" font-weight="bold">ATP</text>
<defs><marker id="ah" viewBox="-7 -4 8 8" refX="0" refY="0" markerWidth="8" markerHeight="8" markerUnits="userSpaceOnUse" orient="auto-start-reverse">
<path d="M0.6,0 L-6,-3.1 L-4.3,0 L-6,3.1 Z" fill="#223f88"/></marker></defs>
<path d="M105,511 L105,523.5" fill="none" stroke="#223f88" stroke-width="1.1" marker-end="url(#ah)"/>
<path d="M105,535.2 L105,549.3" fill="none" stroke="#223f88" stroke-width="1.1" marker-end="url(#ah)" marker-start="url(#ah)"/>
<path d="M105,562 L105,574.6" fill="none" stroke="#223f88" stroke-width="1.1" marker-end="url(#ah)"/>
<path d="M105,587.4 L105,601.5" fill="none" stroke="#223f88" stroke-width="1.1" marker-end="url(#ah)" marker-start="url(#ah)"/>
<path d="M105,613 L105,625.9" fill="none" stroke="#223f88" stroke-width="1.1" marker-end="url(#ah)"/>
<path d="M149,605.6 L171.8,605.6" fill="none" stroke="#223f88" stroke-width="1.1" marker-end="url(#ah)" marker-start="url(#ah)"/>
<path d="M105,639 L105,652" fill="none" stroke="#223f88" stroke-width="1.1" marker-end="url(#ah)" marker-start="url(#ah)"/>
<path d="M105,664 L105,678.3" fill="none" stroke="#223f88" stroke-width="1.1" marker-end="url(#ah)" marker-start="url(#ah)"/>
<path d="M105,689 L105,702.5" fill="none" stroke="#223f88" stroke-width="1.1" marker-end="url(#ah)" marker-start="url(#ah)"/>
<path d="M105,713.8 L105,726.6" fill="none" stroke="#223f88" stroke-width="1.1" marker-end="url(#ah)"/>
<path d="M145.5,517.5 C137,524.5 126,525 117.5,521.6" fill="none" stroke="#223f88" stroke-width="1.1" marker-end="url(#ah)"/>
<path d="M148.5,560.5 C138,569 126,572 116.5,568.7" fill="none" stroke="#223f88" stroke-width="1.1" marker-end="url(#ah)"/>
<path d="M104,643 Q95,648.5 68.5,648.3" fill="none" stroke="#223f88" stroke-width="1.1" marker-end="url(#ah)"/>
<path d="M103.5,719.6 Q98,727.5 70,725.6" fill="none" stroke="#223f88" stroke-width="1.1" marker-end="url(#ah)"/>
<path d="M126.5,636.3 L152,643.3" fill="none" stroke="#223f88" stroke-width="1.1" marker-end="url(#ah)"/>
<path d="M152,652.3 L126.5,656.8" fill="none" stroke="#223f88" stroke-width="1.1" marker-end="url(#ah)"/>
<rect x="0.5" y="0.5" width="519" height="748" fill="none" stroke="#000" stroke-width="1.2"/>
</svg>
</body></html>
